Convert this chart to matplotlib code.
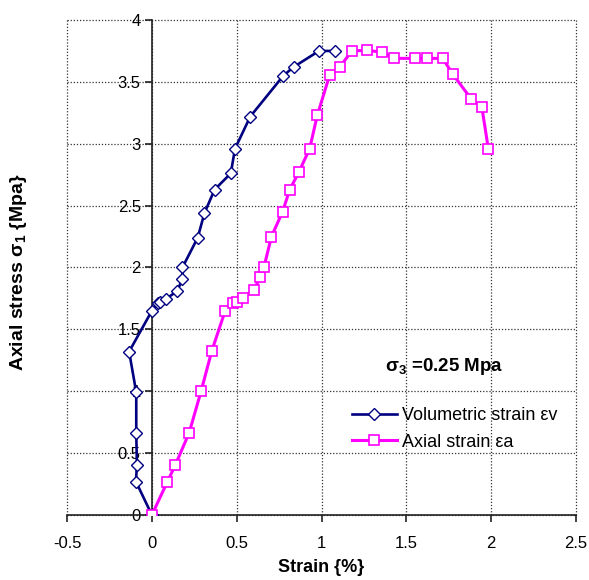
import matplotlib
matplotlib.use("Agg")
import matplotlib.pyplot as plt

plt.rcParams['font.family'] = ['Liberation Sans', 'DejaVu Sans']
plt.rcParams['mathtext.fontset'] = 'custom'
plt.rcParams['mathtext.rm'] = 'Liberation Sans'
plt.rcParams['mathtext.bf'] = 'Liberation Sans:bold'

# volumetric strain (%) vs axial stress (MPa)
vol_strain = [0.0, -0.094, -0.088, -0.092, -0.092, -0.134, 0.0, 0.035, 0.05, 0.082,
              0.15, 0.18, 0.18, 0.27, 0.31, 0.37, 0.465, 0.49, 0.58, 0.775,
              0.835, 0.985, 1.08]
vol_stress = [0.0, 0.27, 0.40, 0.66, 0.99, 1.32, 1.65, 1.71, 1.72, 1.745,
              1.81, 1.91, 2.0, 2.24, 2.44, 2.63, 2.76, 2.96, 3.22, 3.55,
              3.62, 3.75, 3.75]

# axial strain (%) vs axial stress (MPa)
ax_strain = [0.0, 0.092, 0.137, 0.22, 0.29, 0.353, 0.432, 0.48, 0.50, 0.536,
             0.60, 0.64, 0.66, 0.705, 0.77, 0.813, 0.866, 0.93, 0.975, 1.048,
             1.108, 1.178, 1.268, 1.356, 1.43, 1.553, 1.624, 1.714, 1.775, 1.883,
             1.945, 1.983]
ax_stress = [0.0, 0.27, 0.40, 0.665, 1.0, 1.325, 1.65, 1.715, 1.72, 1.755,
             1.82, 1.92, 2.0, 2.25, 2.45, 2.63, 2.77, 2.96, 3.23, 3.556,
             3.62, 3.75, 3.755, 3.74, 3.69, 3.69, 3.69, 3.69, 3.56, 3.36,
             3.295, 2.96]

x_ticks = [-0.5, 0, 0.5, 1, 1.5, 2, 2.5]
y_ticks = [0, 0.5, 1, 1.5, 2, 2.5, 3, 3.5, 4]

fig = plt.figure(figsize=(5.89, 5.80), dpi=100)
ax = fig.add_axes([0.1138, 0.1121, 0.8642, 0.8534])

ax.plot(vol_strain, vol_stress, color='#000080', lw=1.9, marker='D', ms=6,
        mfc='white', mec='#000080', mew=1.0, label='Volumetric strain εv', zorder=3)
ax.plot(ax_strain, ax_stress, color='#FF00FF', lw=2.2, marker='s', ms=6.5,
        mfc='white', mec='#FF00FF', mew=1.2, label='Axial strain εa', zorder=3)

ax.set_xlim(-0.5, 2.5)
ax.set_ylim(0, 4)
ax.set_xticks(x_ticks)
ax.set_xticklabels(['-0.5', '0', '0.5', '1', '1.5', '2', '2.5'])
ax.set_yticks(y_ticks)
ax.set_yticklabels(['0', '0.5', '1', '1.5', '2', '2.5', '3', '3.5', '4'])

ax.spines['left'].set_position(('data', 0))
ax.spines['top'].set_visible(False)
ax.spines['right'].set_visible(False)
for s in ['left', 'bottom']:
    ax.spines[s].set_color('#222222')
    ax.spines[s].set_linewidth(1.2)
ax.tick_params(axis='both', direction='out', length=5, width=1.2, labelsize=12,
               color='#222222')
ax.tick_params(axis='x', pad=10)
ax.tick_params(axis='y', pad=3)

ax.grid(True, color='#333333', linestyle=(0, (1, 1.5)), linewidth=0.9, clip_on=False)
ax.set_axisbelow(True)

ax.set_xlabel('Strain {%}', fontsize=13, fontweight='bold', labelpad=6)
ax.set_ylabel(r'Axial stress σ$_\mathbf{1}$ {Mpa}', fontsize=14, fontweight='bold')
ax.yaxis.set_label_coords(-0.075, 0.49)

ax.text(1.72, 1.2, r'σ$_\mathbf{3}$ =0.25 Mpa', fontsize=13.5, fontweight='bold',
        ha='center', va='center')

ax.legend(loc='upper left', bbox_to_anchor=(0.527, 0.25), frameon=False,
          fontsize=13, handlelength=2.5, handletextpad=0.3, labelspacing=0.5)

fig.savefig('out.png', dpi=100)
